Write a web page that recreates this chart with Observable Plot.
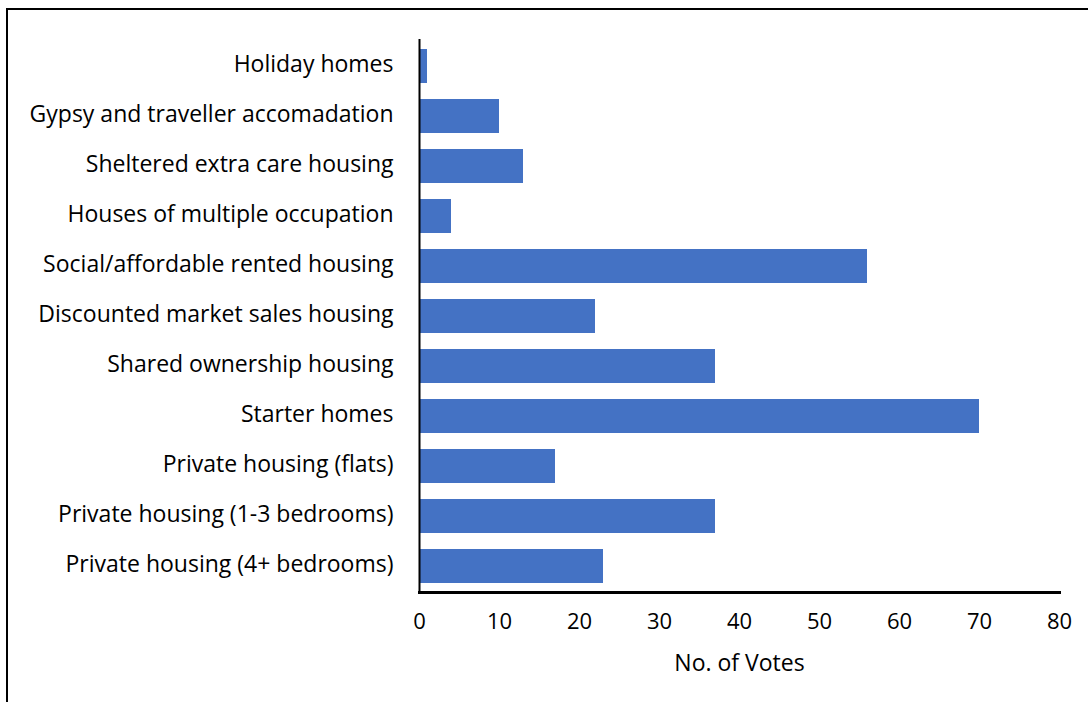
<!DOCTYPE html>
<html>
<head>
<meta charset="utf-8">
<script src="https://cdn.jsdelivr.net/npm/d3@7"></script>
<script src="https://cdn.jsdelivr.net/npm/@observablehq/plot@0.6"></script>
<style>
  html, body { margin: 0; padding: 0; background: #fff; overflow: hidden; }
  #wrap { position: relative; width: 1088px; height: 702px; }
  #border { position: absolute; left: 6px; top: 8px; width: 1200px; height: 800px;
            border-left: 2px solid #000; border-top: 2px solid #000; pointer-events: none; }
  #chart { position: absolute; left: 0; top: 0; }
</style>
</head>
<body>
<div id="wrap"><div id="chart"></div><div id="border"></div></div>
<script>
const categories = [
  "Holiday homes",
  "Gypsy and traveller accomadation",
  "Sheltered extra care housing",
  "Houses of multiple occupation",
  "Social/affordable rented housing",
  "Discounted market sales housing",
  "Shared ownership housing",
  "Starter homes",
  "Private housing (flats)",
  "Private housing (1-3 bedrooms)",
  "Private housing (4+ bedrooms)"
];
const votes = [1, 10, 13, 4, 56, 22, 37, 70, 17, 37, 23];
const xTicks = [0, 10, 20, 30, 40, 50, 60, 70, 80];
const xLabel = "No. of Votes";

const data = categories.map((c, i) => ({category: c, votes: votes[i]}));

const font = "'Open Sans', sans-serif";

const chart = Plot.plot({
  width: 1088,
  height: 702,
  marginTop: 39,
  marginBottom: 110,
  marginLeft: 419,
  marginRight: 29,
  style: {fontFamily: font, fontSize: "22px", color: "#000", background: "#fff"},
  x: {domain: [0, 80], ticks: xTicks, label: null},
  y: {domain: categories, paddingInner: 0.32, paddingOuter: 0.16, label: null},
  marks: [
    Plot.barX(data, {x: "votes", y: "category", fill: "#4472C4"}),
    Plot.ruleX([0], {stroke: "#000", strokeWidth: 2}),
    Plot.axisX({ticks: xTicks, tickSize: 0, tickPadding: 21, label: null, fontSize: 22, line: false}),
    Plot.frame({anchor: "bottom", stroke: "#000", strokeWidth: 3}),
    Plot.axisY({tickSize: 0, tickPadding: 26, label: null, fontSize: 23, dy: -2}),
    Plot.text([xLabel], {frameAnchor: "bottom", dy: 71, text: d => d, fontSize: 23, lineAnchor: "middle", fill: "#000"})
  ]
});
document.getElementById("chart").appendChild(chart);
</script>
</body>
</html>
